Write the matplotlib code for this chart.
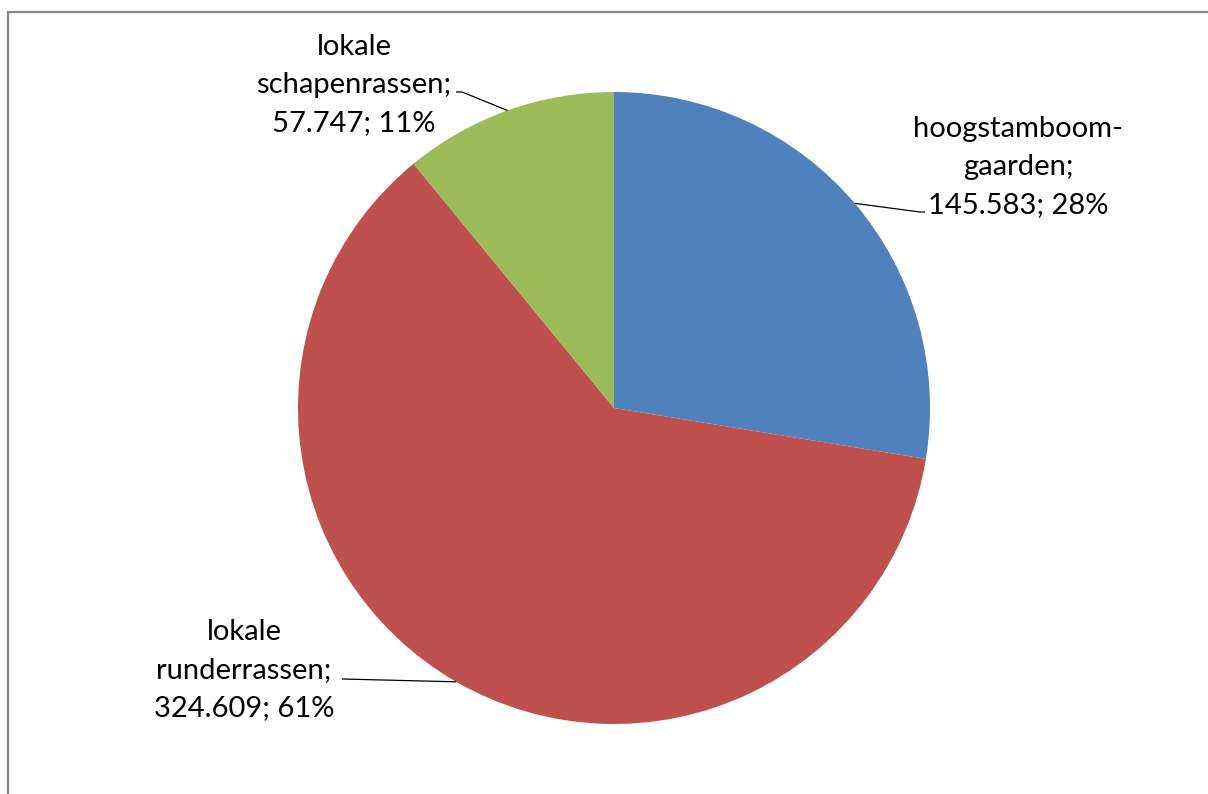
import numpy as np
import matplotlib
matplotlib.use("Agg")
import matplotlib.pyplot as plt
from matplotlib.patches import Rectangle

# ---- data ----
categories = ["hoogstamboom-\ngaarden", "lokale\nrunderrassen", "lokale\nschapenrassen"]
values = [145583, 324609, 57747]
colors = ["#4F81BD", "#C0504D", "#9BBB59"]

W, H = 1208, 794
fig = plt.figure(figsize=(W / 100, H / 100), dpi=100)
ax = fig.add_axes([0, 0, 1, 1])
ax.set_xlim(0, W)
ax.set_ylim(0, H)
ax.set_aspect("equal")
ax.axis("off")

cx, cy, r = 614, H - 408, 316
wedges, _ = ax.pie(values, colors=colors, startangle=90, counterclock=False,
                   center=(cx, cy), radius=r, frame=True,
                   wedgeprops=dict(linewidth=0))
ax.set_xlim(0, W)
ax.set_ylim(0, H)
ax.axis("off")

total = sum(values)

def fmt(v):
    return f"{v:,}".replace(",", ".")

# label layout: (text centre x, text centre y (image px), leader elbow x, leader end x, leader y)
layout = [
    dict(tx=1018, ty=167, ex=920, lx=925, ly=212),
    dict(tx=244, ty=670, ex=342, lx=342, ly=679),
    dict(tx=354, ty=85, ex=462, lx=456, ly=92),
]

for w, cat, v, L in zip(wedges, categories, values, layout):
    ang = np.deg2rad((w.theta1 + w.theta2) / 2)
    px, py = cx + r * np.cos(ang), cy + r * np.sin(ang)
    lines = cat.split("\n")
    text = "\n".join(lines[:-1] + [lines[-1] + ";", f"{fmt(v)}; {round(v / total * 100)}%"])
    ax.text(L["tx"], H - L["ty"], text, ha="center", va="center", multialignment="center",
            fontsize=21, family=["Lato", "DejaVu Sans"], color="#000000", linespacing=1.58)
    ax.plot([px, L["ex"], L["lx"]], [py, H - L["ly"], H - L["ly"]], color="#000000",
            lw=0.9, solid_capstyle="butt")

# chart area frame
ax.add_patch(Rectangle((8, -20), W + 20, H - 12 + 20, fill=False, edgecolor="#868686",
                       lw=1.6, clip_on=False))

fig.savefig("out.png", dpi=100, facecolor="white")
